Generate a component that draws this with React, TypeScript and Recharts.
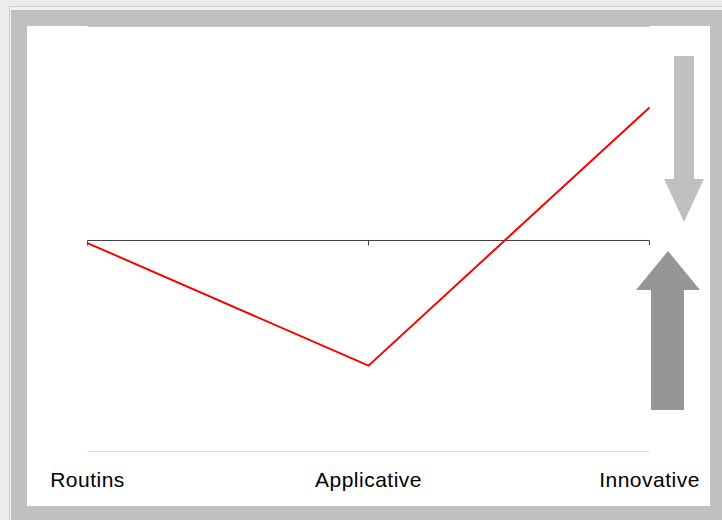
import React from "react";
import { LineChart, Line, XAxis, YAxis, ReferenceLine } from "recharts";

// categories along the x axis
const stages = ["Routins", "Applicative", "Innovative"];
// series value for each category
const levels = [-0.012, -0.585, 0.622];
// vertical scale and the small tick marks hanging off the zero line
const yDomain = [-0.986, 1];
const zeroTickLength = 0.023;

const data = stages.map((stage, i) => ({ stage, level: levels[i] }));

const FONT = "Arial, 'Liberation Sans', sans-serif";

const Arrows: React.FC = () => (
    <svg
        width={722}
        height={520}
        style={{ position: "absolute", left: 0, top: 0, pointerEvents: "none" }}
    >
        {/* light arrow pointing down */}
        <polygon
            points="674,56 694,56 694,179 704,179 684,222 664,179 674,179"
            fill="#c0c0c0"
        />
        {/* dark arrow pointing up */}
        <polygon
            points="668,251 700,290 684,290 684,410 651,410 651,290 636,290"
            fill="#969696"
        />
    </svg>
);

const App: React.FC = () => {
    return (
        <div style={{ position: "absolute", left: 0, top: 0, width: 722, height: 520, background: "#ececec", overflow: "hidden" }}>
            {/* frame */}
            <div style={{ position: "absolute", left: 9, top: 6, right: 0, bottom: 0, borderLeft: "1px solid #cfcfcf", borderTop: "1px solid #cfcfcf", background: "#f2f2f2" }} />
            <div style={{ position: "absolute", left: 11, top: 10, right: 0, bottom: 0, background: "#c0c0c0" }} />
            <div style={{ position: "absolute", left: 27, top: 26, width: 683, height: 480, background: "#ffffff" }} />

            <div style={{ position: "absolute", left: 0, top: 0 }}>
                <LineChart
                    width={722}
                    height={520}
                    data={data}
                    margin={{ top: 26.5, right: 72.5, left: 87.5, bottom: 8.5 }}
                >
                    <YAxis hide type="number" domain={yDomain} allowDataOverflow />
                    <XAxis
                        dataKey="stage"
                        height={60}
                        axisLine={false}
                        tickLine={false}
                        tickSize={0}
                        tickMargin={21}
                        interval={0}
                        tick={{ fill: "#000000", fontSize: 21, fontFamily: FONT, letterSpacing: 0.5 }}
                    />
                    <ReferenceLine y={yDomain[1]} stroke="#c4c4c4" strokeWidth={1} />
                    <ReferenceLine y={yDomain[0]} stroke="#dcdcdc" strokeWidth={1} />
                    <ReferenceLine y={0} stroke="#404040" strokeWidth={1} />
                    {stages.map((stage) => (
                        <ReferenceLine
                            key={stage}
                            segment={[
                                { x: stage, y: 0 },
                                { x: stage, y: -zeroTickLength },
                            ]}
                            stroke="#404040"
                            strokeWidth={1}
                        />
                    ))}
                    <Line
                        type="linear"
                        dataKey="level"
                        stroke="#ff0000"
                        strokeWidth={2}
                        dot={false}
                        activeDot={false}
                        isAnimationActive={false}
                    />
                </LineChart>
            </div>
            <Arrows />
        </div>
    );
};

export default App;
